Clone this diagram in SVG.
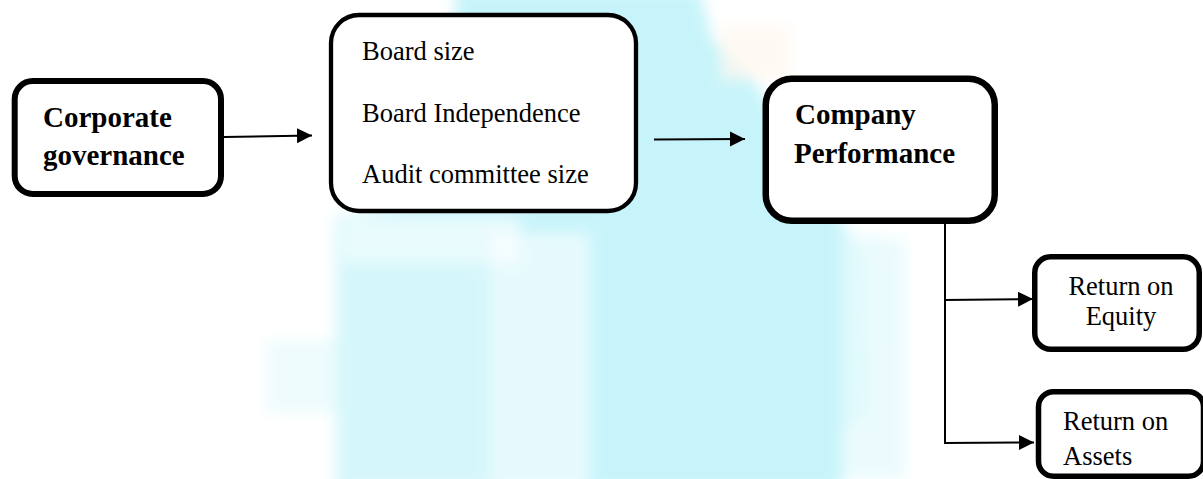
<svg xmlns="http://www.w3.org/2000/svg" width="1203" height="479" viewBox="0 0 1203 479">
  <defs>
    <style>
      .box { fill: #ffffff; stroke: #000000; }
      .bold { font-family: "Liberation Serif", "Times New Roman", serif; font-weight: bold; font-size: 29px; fill: #000000; }
      .reg { font-family: "Liberation Serif", "Times New Roman", serif; font-size: 26.5px; fill: #000000; }
      .conn { stroke: #000000; stroke-width: 2; fill: none; }
    </style>
    <marker id="arrow" markerUnits="userSpaceOnUse" markerWidth="16" markerHeight="16" viewBox="0 0 16 16" refX="15" refY="8" orient="auto">
      <path d="M0,0.5 L15,8 L0,15.5 Z" fill="#000000"/>
    </marker>
    <filter id="soft" x="-20%" y="-20%" width="140%" height="140%">
      <feGaussianBlur stdDeviation="7"/>
    </filter>
  </defs>

  <rect x="0" y="0" width="1203" height="479" fill="#ffffff"/>

  <!-- watermark background -->
  <g id="watermark" filter="url(#soft)">
    <polygon points="455,-10 700,-10 712,40 755,82 800,160 842,222 866,262 868,413 842,432 842,490 336,490 336,217 440,200 455,13" fill="#c7f4fa"/>
    <polygon points="266,340 336,340 336,413 266,413" fill="#eefcfd"/>
    <polygon points="490,233 590,233 590,490 490,490" fill="#ffffff" opacity="0.55"/>
    <polygon points="340,217 520,217 520,263 340,263" fill="#ffffff" opacity="0.6"/>
    <polygon points="336,263 490,263 490,490 336,490" fill="#ffffff" opacity="0.25"/>
    <polygon points="720,25 790,25 790,80 720,80" fill="#fff6ee" opacity="0.7"/>
    <polygon points="842,232 905,240 905,479 842,479" fill="#e6fafc" opacity="0.8"/>
  </g>

  <!-- connectors -->
  <g id="connectors">
    <line class="conn" x1="224" y1="137" x2="312" y2="135.5" marker-end="url(#arrow)"/>
    <line class="conn" x1="654" y1="139.5" x2="745" y2="139" marker-end="url(#arrow)"/>
    <line class="conn" x1="945" y1="224" x2="945" y2="443.5"/>
    <line class="conn" x1="944" y1="300" x2="1033" y2="299" marker-end="url(#arrow)"/>
    <line class="conn" x1="944" y1="443" x2="1034" y2="442.5" marker-end="url(#arrow)"/>
  </g>

  <g id="corporate-governance">
    <rect class="box" x="14.7" y="81" width="206.3" height="113" rx="18" ry="18" stroke-width="6"/>
    <text class="bold" x="43" y="127">Corporate</text>
    <text class="bold" x="43" y="165">governance</text>
  </g>

  <g id="board-attributes">
    <rect class="box" x="331" y="15" width="305" height="196" rx="28" ry="28" stroke-width="4.3"/>
    <text class="reg" x="362" y="60">Board size</text>
    <text class="reg" x="362" y="122">Board Independence</text>
    <text class="reg" x="362" y="183">Audit committee size</text>
  </g>

  <g id="company-performance">
    <rect class="box" x="765.75" y="78.75" width="229" height="142" rx="26" ry="26" stroke-width="6.5"/>
    <text class="bold" x="795" y="124">Company</text>
    <text class="bold" x="794" y="163">Performance</text>
  </g>

  <g id="return-on-equity">
    <rect class="box" x="1034.75" y="256.75" width="164.5" height="92.5" rx="16" ry="16" stroke-width="5.5"/>
    <text class="reg" x="1121" y="295" text-anchor="middle">Return on</text>
    <text class="reg" x="1121" y="325" text-anchor="middle">Equity</text>
  </g>

  <g id="return-on-assets">
    <rect class="box" x="1038.5" y="391.75" width="165" height="84.5" rx="15" ry="15" stroke-width="5.5"/>
    <text class="reg" x="1063" y="430">Return on</text>
    <text class="reg" x="1063" y="465">Assets</text>
  </g>
</svg>
